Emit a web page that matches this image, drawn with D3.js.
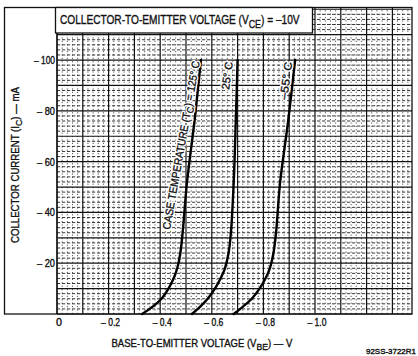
<!DOCTYPE html>
<html><head><meta charset="utf-8">
<script src="https://cdn.jsdelivr.net/npm/d3@7"></script>
<style>
html,body{margin:0;padding:0;background:#fff;}
svg{display:block;}
text{font-family:"Liberation Sans",Arial,sans-serif;fill:#111;}
</style></head>
<body>
<svg id="chart" width="418" height="356"></svg>
<script>
// ---- data ----
const xTicks = [0, 0.2, 0.4, 0.6, 0.8, 1.0];
const xTickLabels = ["0", "\u2013 0.2", "\u2013 0.4", "\u2013 0.6", "\u2013 0.8", "\u2013 1.0"];
const yTicks = [20, 40, 60, 80, 100];
const yTickLabels = ["\u2013 20", "\u2013 40", "\u2013 60", "\u2013 80", "\u2013 100"];
const current125 = [0, 3, 6, 10, 14, 18, 24, 32, 52, 76, 100];
const vbe125 = [0.33, 0.372, 0.405, 0.432, 0.452, 0.466, 0.478, 0.487, 0.504, 0.533, 0.558];
const current25 = [0, 3, 6, 10, 14, 18, 24, 32, 52, 76, 100];
const vbe25 = [0.523, 0.556, 0.584, 0.612, 0.634, 0.651, 0.665, 0.674, 0.685, 0.693, 0.70];
const currentM55 = [0, 3, 6, 10, 14, 18, 24, 32, 52, 76, 100];
const vbeM55 = [0.685, 0.722, 0.755, 0.785, 0.808, 0.825, 0.839, 0.849, 0.865, 0.896, 0.923];
const curveLabel125 = ["CASE TEMPERATURE (T", "C", ") = 125\u00b0 C"];
const curveLabel25 = "25\u00b0 C";
const curveLabelM55 = "\u201355\u00b0 C";

const svg = d3.select("#chart");
const X0 = 57, X1 = 412, Y0 = 314, Y1 = 8;
const x = d3.scaleLinear().domain([0, 1.376]).range([X0, X1]);
const y = d3.scaleLinear().domain([0, 120.5]).range([Y0, Y1]);

// ---- grid ----
const g = svg.append("g");
const minorX = d3.range(0, 1.376, 0.02).filter(v => Math.abs(v*10 - Math.round(v*10)) > 1e-6);
const minorY = d3.range(0, 120.5, 2).filter(v => v % 10 !== 0);
const majorX = d3.range(0, 1.376, 0.1);
const majorY = d3.range(0, 120.5, 10);
g.selectAll(".mx").data(minorX).join("line")
  .attr("x1", d => x(d)).attr("x2", d => x(d)).attr("y1", Y0).attr("y2", Y1)
  .attr("stroke", "#444").attr("stroke-width", 0.9).attr("stroke-dasharray", "1.2,2.2");
g.selectAll(".my").data(minorY).join("line")
  .attr("x1", X0).attr("x2", X1).attr("y1", d => y(d)).attr("y2", d => y(d))
  .attr("stroke", "#222").attr("stroke-width", 0.9).attr("stroke-dasharray", "3.2,1.8");
g.selectAll(".Mx").data(majorX).join("line")
  .attr("x1", d => x(d)).attr("x2", d => x(d)).attr("y1", Y0).attr("y2", Y1)
  .attr("stroke", "#111").attr("stroke-width", 1.2);
g.selectAll(".My").data(majorY).join("line")
  .attr("x1", X0).attr("x2", X1).attr("y1", d => y(d)).attr("y2", d => y(d))
  .attr("stroke", "#111").attr("stroke-width", 1.2);

// outer frame
svg.append("rect").attr("x", 4.5).attr("y", 7.5).attr("width", X1 - 4.5).attr("height", Y0 - 7.5)
  .attr("fill", "none").attr("stroke", "#111").attr("stroke-width", 1.3);
svg.append("line").attr("x1", X0).attr("x2", X0).attr("y1", Y1).attr("y2", Y0)
  .attr("stroke", "#111").attr("stroke-width", 1.3);

// helper: text placed at (px,py), rotated, squeezed horizontally to a target width
function fitText(px, py, ang, fs, target, anchor, build, halo) {
  const grp = svg.append("g").attr("transform", `translate(${px},${py}) rotate(${ang})`);
  const layers = halo ? ["halo", "ink"] : ["ink"];
  let items = [];
  layers.forEach(k => {
    const t = grp.append("text").attr("font-size", fs);
    if (k === "halo") t.attr("stroke", "#fff").attr("stroke-width", 3).attr("stroke-linejoin", "round").style("fill", "#fff");
    else t.attr("stroke", "#111").attr("stroke-width", 0.35);
    build(t);
    items.push(t);
  });
  const w = items[0].node().getComputedTextLength();
  const s = target / w;
  const off = anchor === "middle" ? -w / 2 : anchor === "end" ? -w : 0;
  items.forEach(t => t.attr("transform", `scale(${s},1) translate(${off},0)`));
  return grp;
}
function sub(t, parts, fs, subfs, d) {
  t.append("tspan").text(parts[0]);
  t.append("tspan").attr("dy", d).attr("font-size", subfs).text(parts[1]);
  t.append("tspan").attr("dy", -d).text(parts[2]);
}

// ---- title box ----
svg.append("rect").attr("x", 55.5).attr("y", 7.5).attr("width", 257).attr("height", 25.5)
  .attr("fill", "#fff").attr("stroke", "#111").attr("stroke-width", 1.3);
fitText(60, 24, 0, 12.5, 240, "start",
  t => sub(t, ["COLLECTOR-TO-EMITTER VOLTAGE (V", "CE", ") = \u201310V"], 12.5, 11, 3.5));

// ---- curves ----
const line = d3.line().x(d => x(d[0])).y(d => y(d[1])).curve(d3.curveCatmullRom.alpha(0.5));
[[vbe125, current125], [vbe25, current25], [vbeM55, currentM55]].forEach(([vs, is]) => {
  svg.append("path").datum(vs.map((v, i) => [v, is[i]]))
    .attr("d", line).attr("fill", "none").attr("stroke", "#000").attr("stroke-width", 2.4)
    .attr("stroke-linecap", "round");
});

// ---- curve labels ----
fitText(170, 230, -80, 11, 171, "start",
  t => sub(t, curveLabel125, 11, 9.5, 2.5), true);
fitText(229, 90, -82, 11, 28, "start", t => t.text(curveLabel25), true);
fitText(287, 100, -82, 11, 38, "start", t => t.text(curveLabelM55), true);

// ---- axes labels ----
xTicks.forEach((d, i) => {
  const lab = xTickLabels[i];
  const w = i === 0 ? 6 : 19;
  fitText(x(d) + (i === 0 ? 2 : 2), 326, 0, 10.5, w, "middle", t => t.text(lab));
});
yTicks.forEach((d, i) => {
  const lab = yTickLabels[i];
  const w = d === 100 ? 21 : 18;
  fitText(55, y(d) + 4, 0, 10.5, w, "end", t => t.text(lab));
});

fitText(202, 347, 0, 10.5, 181, "middle",
  t => sub(t, ["BASE-TO-EMITTER VOLTAGE (V", "BE", ") \u2014 V"], 10.5, 9.5, 3));
fitText(19, 165, -90, 10.5, 156, "middle",
  t => sub(t, ["COLLECTOR CURRENT (I", "C", ") \u2014 mA"], 10.5, 9.5, 3));

fitText(416, 354, 0, 7.5, 50, "end", t => t.text("92SS-3722R1"));
</script>
</body></html>
